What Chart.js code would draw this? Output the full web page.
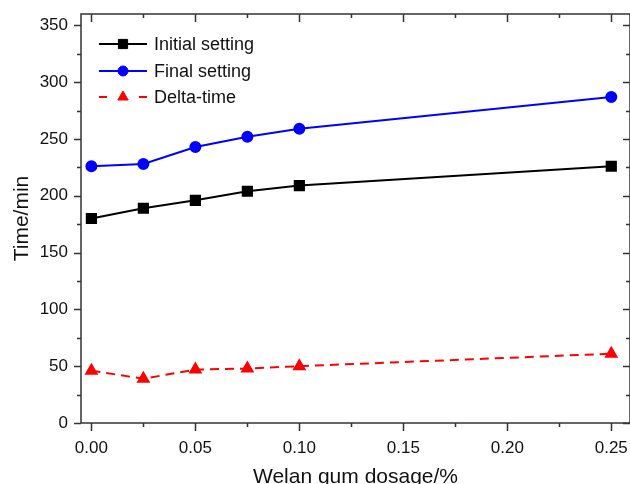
<!DOCTYPE html>
<html>
<head>
<meta charset="utf-8">
<script src="https://cdn.jsdelivr.net/npm/chart.js@4/dist/chart.umd.min.js"></script>
<style>
  html, body { margin: 0; padding: 0; background: #fff; overflow: hidden; }
</style>
</head>
<body>
<canvas id="setting_time" width="630" height="484"></canvas>
<script>
// welan gum dosage (%) and setting times (min)
const dosage = [0, 0.025, 0.05, 0.075, 0.1, 0.25];
const initialSetting = [180, 189, 196, 204, 209, 226];
const finalSetting = [226, 228, 243, 252, 259, 287];
const deltaTime = [46, 39, 47, 48, 50, 61];

const xTicks = [0, 0.025, 0.05, 0.075, 0.1, 0.125, 0.15, 0.175, 0.2, 0.225, 0.25];
const yTicks = [0, 25, 50, 75, 100, 125, 150, 175, 200, 225, 250, 275, 300, 325, 350];

const FONT = "'Liberation Sans', Arial, Helvetica, sans-serif";
const AXIS_COLOR = "#333";

const toPoints = (values) => values.map((v, i) => ({ x: dosage[i], y: v }));

const isMajorX = (v) => Math.round(v * 1000) % 50 === 0;
const isMajorY = (v) => Math.round(v) % 50 === 0;

// chart area comes from layout padding only, not from end labels
const noLabelPadding = (scale) => {
  scale.paddingTop = 0;
  scale.paddingBottom = 0;
  scale.paddingLeft = 0;
  scale.paddingRight = 0;
};

// frame + tick marks: outward on left/bottom, inward on top/right
const frameTicks = {
  id: "frameTicks",
  afterDraw(chart) {
    const { ctx, chartArea: a, scales } = chart;
    ctx.save();
    ctx.strokeStyle = AXIS_COLOR;
    ctx.lineWidth = 1.5;
    ctx.strokeRect(a.left, a.top, a.right - a.left, a.bottom - a.top);
    ctx.beginPath();
    xTicks.forEach((v) => {
      const px = Math.round(scales.x.getPixelForValue(v)) + 0.5;
      const len = isMajorX(v) ? 8 : 4;
      ctx.moveTo(px, a.bottom);
      ctx.lineTo(px, a.bottom + len);
      ctx.moveTo(px, a.top);
      ctx.lineTo(px, a.top + len);
    });
    yTicks.forEach((v) => {
      const py = Math.round(scales.y.getPixelForValue(v)) + 0.5;
      const len = isMajorY(v) ? 7 : 4;
      ctx.moveTo(a.left, py);
      ctx.lineTo(a.left - len, py);
      ctx.moveTo(a.right, py);
      ctx.lineTo(a.right - len, py);
    });
    ctx.stroke();
    ctx.restore();
  },
};

// legend with line sample and marker in the middle
const lineLegend = {
  id: "lineLegend",
  afterDraw(chart) {
    const { ctx } = chart;
    const x0 = 99, x1 = 147, tx = 154;
    const rows = [44, 71, 97];
    chart.data.datasets.forEach((ds, i) => {
      const y = rows[i];
      ctx.save();
      ctx.strokeStyle = ds.borderColor;
      ctx.lineWidth = ds.borderWidth;
      ctx.setLineDash(ds.borderDash ? [8, 32] : []);
      ctx.beginPath();
      ctx.moveTo(x0, y);
      ctx.lineTo(x1, y);
      ctx.stroke();
      ctx.setLineDash([]);
      ctx.fillStyle = ds.pointBackgroundColor;
      ctx.strokeStyle = ds.pointBackgroundColor;
      ctx.lineWidth = 1;
      Chart.helpers.drawPoint(ctx, {
        pointStyle: ds.pointStyle,
        radius: ds.pointRadius,
        borderWidth: 1,
        rotation: 0,
      }, (x0 + x1) / 2, y);
      ctx.fillStyle = "#111";
      ctx.font = "18px " + FONT;
      ctx.textBaseline = "middle";
      ctx.fillText(ds.label, tx, y + 1);
      ctx.restore();
    });
  },
};

const ctx = document.getElementById("setting_time");

new Chart(ctx, {
  type: "line",
  data: {
    datasets: [
      {
        label: "Initial setting",
        data: toPoints(initialSetting),
        borderColor: "#000000",
        backgroundColor: "#000000",
        pointBackgroundColor: "#000000",
        pointBorderColor: "#000000",
        borderWidth: 2,
        pointStyle: "rect",
        pointRadius: 6.5,
      },
      {
        label: "Final setting",
        data: toPoints(finalSetting),
        borderColor: "#0000ff",
        backgroundColor: "#0000ff",
        pointBackgroundColor: "#0000ff",
        pointBorderColor: "#0000ff",
        borderWidth: 2,
        pointStyle: "circle",
        pointRadius: 5,
      },
      {
        label: "Delta-time",
        data: toPoints(deltaTime),
        borderColor: "#ff0000",
        backgroundColor: "#ff0000",
        pointBackgroundColor: "#ff0000",
        pointBorderColor: "#ff0000",
        borderWidth: 2,
        borderDash: [9, 6],
        pointStyle: "triangle",
        pointRadius: 6,
      },
    ],
  },
  options: {
    responsive: false,
    animation: false,
    layout: {
      autoPadding: false,
      padding: { top: 14, right: 0, left: 0, bottom: 0 },
    },
    plugins: {
      legend: { display: false },
      tooltip: { enabled: false },
    },
    scales: {
      x: {
        type: "linear",
        min: -0.005,
        max: 0.259,
        afterBuildTicks: (scale) => {
          scale.ticks = xTicks.map((v) => ({ value: v }));
        },
        afterFit: (scale) => {
          scale.height = 61;
          noLabelPadding(scale);
        },
        grid: { display: false, drawTicks: false },
        border: { display: false },
        ticks: {
          autoSkip: false,
          maxRotation: 0,
          padding: 15,
          color: "#111",
          font: { family: FONT, size: 17 },
          callback: (value) => (isMajorX(value) ? value.toFixed(2) : ""),
        },
        title: {
          display: true,
          text: "Welan gum dosage/%",
          color: "#111",
          font: { family: FONT, size: 21 },
          padding: { top: 0, bottom: -6 },
        },
      },
      y: {
        min: 0,
        max: 360,
        afterBuildTicks: (scale) => {
          scale.ticks = yTicks.map((v) => ({ value: v }));
        },
        afterFit: (scale) => {
          scale.width = 81;
          noLabelPadding(scale);
        },
        grid: { display: false, drawTicks: false },
        border: { display: false },
        ticks: {
          autoSkip: false,
          padding: 13,
          color: "#111",
          font: { family: FONT, size: 17 },
          callback: (value) => (isMajorY(value) ? String(value) : ""),
        },
        title: {
          display: true,
          text: "Time/min",
          color: "#111",
          font: { family: FONT, size: 21 },
          padding: { top: 10, bottom: 0 },
        },
      },
    },
  },
  plugins: [frameTicks, lineLegend],
});
</script>
</body>
</html>
